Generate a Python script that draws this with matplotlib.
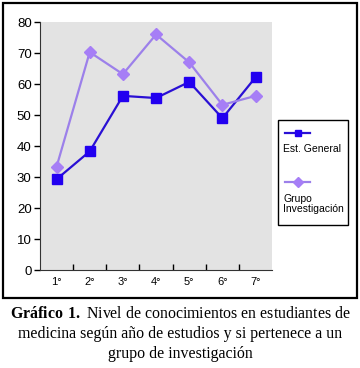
import matplotlib.pyplot as plt
from matplotlib.lines import Line2D
from matplotlib.patches import Rectangle

# Datos
years = ["1°", "2°", "3°", "4°", "5°", "6°", "7°"]
est_general = [29.3, 38.3, 56.2, 55.5, 60.7, 49.0, 62.2]
grupo_inv = [33.3, 70.3, 63.2, 76.0, 67.0, 53.3, 56.2]
series_names = ["Est. General", "Grupo\nInvestigación"]

c_gen = "#2a10d4"
c_gen_mk = "#2200f0"
c_inv = "#9c80ea"
c_inv_mk = "#a67ef6"

plt.rcParams['font.family'] = ['Liberation Sans', 'DejaVu Sans']
plt.rcParams['mathtext.fontset'] = 'custom'
plt.rcParams['mathtext.rm'] = 'Liberation Serif'
plt.rcParams['mathtext.bf'] = 'Liberation Serif:bold'

fig = plt.figure(figsize=(3.6, 3.68), dpi=100)
ax = fig.add_axes([0.111, 0.266, 0.645, 0.674])
ax.set_facecolor("#e3e3e3")

x = list(range(len(years)))
ax.plot(x, est_general, color=c_gen, lw=1.6, marker="s", ms=6.5,
        mfc=c_gen_mk, mec=c_gen_mk)
ax.plot(x, grupo_inv, color=c_inv, lw=1.6, marker="D", ms=6,
        mfc=c_inv_mk, mec=c_inv_mk)

ax.set_xlim(-0.5, len(years) - 0.5)
ax.set_ylim(0, 80)
ax.set_yticks(range(0, 81, 10))
ax.tick_params(axis="y", labelsize=9.5, length=4, width=1, pad=2)
ax.set_xticks(x)
ax.set_xticklabels(years, fontsize=8)
ax.tick_params(axis="x", which="major", length=0, pad=5)
ax.set_xticks([i + 0.5 for i in x[:-1]], minor=True)
ax.tick_params(axis="x", which="minor", length=4, width=1, direction="in")
for s in ["top", "right"]:
    ax.spines[s].set_visible(False)
ax.spines["left"].set_color("#333333")
ax.spines["bottom"].set_color("#333333")

# Leyenda (manual, con el simbolo encima del texto)
fig.patches.append(Rectangle((278 / 360, 1 - 225 / 368), 70 / 360, 105 / 368,
                             transform=fig.transFigure, fill=False,
                             ec="black", lw=1))
fig.lines.append(Line2D([285 / 360, 310 / 360], [1 - 133 / 368] * 2,
                        transform=fig.transFigure, color=c_gen, lw=1.6))
fig.lines.append(Line2D([297.5 / 360], [1 - 133 / 368], transform=fig.transFigure,
                        ls="none", marker="s", ms=5, mfc=c_gen_mk, mec=c_gen_mk))
fig.lines.append(Line2D([285 / 360, 310 / 360], [1 - 182 / 368] * 2,
                        transform=fig.transFigure, color=c_inv, lw=1.6))
fig.lines.append(Line2D([297.5 / 360], [1 - 182 / 368], transform=fig.transFigure,
                        ls="none", marker="D", ms=5, mfc=c_inv_mk, mec=c_inv_mk))
fig.text(283 / 360, 1 - 149 / 368, series_names[0], fontsize=7.5, va="center")
fig.text(283 / 360, 1 - 204 / 368, series_names[1], fontsize=7.5, va="center",
         linespacing=1.0)

# Marco exterior
fig.patches.append(Rectangle((3 / 360, 1 - 298 / 368), 354 / 360, 295 / 368,
                             transform=fig.transFigure, fill=False,
                             ec="black", lw=1.6))

# Pie de figura
serif = ['Liberation Serif', 'DejaVu Serif']
fig.text(0.5, 1 - 314 / 368,
         r"$\mathbf{Gráfico\ 1.}$ Nivel de conocimientos en estudiantes de",
         ha="center", va="center", fontsize=11.4, family=serif)
fig.text(0.5, 1 - 334 / 368,
         "medicina según año de estudios y si pertenece a un",
         ha="center", va="center", fontsize=11.4, family=serif)
fig.text(0.5, 1 - 354 / 368, "grupo de investigación",
         ha="center", va="center", fontsize=11.4, family=serif)

fig.savefig("out.png", dpi=100)
